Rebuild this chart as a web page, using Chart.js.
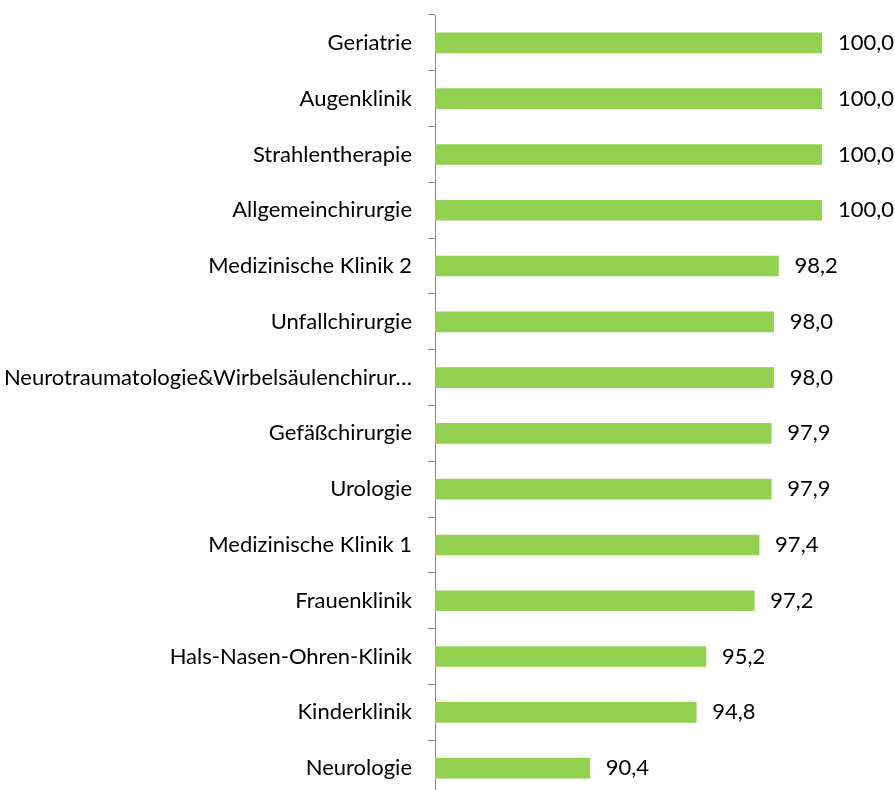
<!DOCTYPE html>
<html>
<head>
<meta charset="utf-8">
<script src="https://cdn.jsdelivr.net/npm/chart.js@4"></script>
<style>
  html, body { margin: 0; padding: 0; background: #fff; overflow: hidden; }
  #wrap { width: 895px; height: 800px; position: relative; }
</style>
</head>
<body>
<div id="wrap"><canvas id="chart"></canvas></div>
<script>
// categories top to bottom
const categories = [
	"Geriatrie",
	"Augenklinik",
	"Strahlentherapie",
	"Allgemeinchirurgie",
	"Medizinische Klinik 2",
	"Unfallchirurgie",
	"Neurotraumatologie&Wirbelsäulenchirur…",
	"Gefäßchirurgie",
	"Urologie",
	"Medizinische Klinik 1",
	"Frauenklinik",
	"Hals-Nasen-Ohren-Klinik",
	"Kinderklinik",
	"Neurologie"
];
const values = [100.0, 100.0, 100.0, 100.0, 98.2, 98.0, 98.0, 97.9, 97.9, 97.4, 97.2, 95.2, 94.8, 90.4];
const axisMin = 84;
const axisMax = 100;

const FONT = { family: "Lato", size: 22 };

// draw value labels to the right of each bar (comma decimal)
const valueLabels = {
	id: "valueLabels",
	afterDatasetsDraw(chart) {
		const ctx = chart.ctx;
		const meta = chart.getDatasetMeta(0);
		ctx.save();
		ctx.font = FONT.size + "px " + FONT.family;
		ctx.fillStyle = "#000";
		ctx.textAlign = "left";
		ctx.textBaseline = "middle";
		meta.data.forEach(function(bar, i) {
			ctx.fillText(values[i].toFixed(1).replace(".", ","), bar.x + 16, bar.y);
		});
		ctx.restore();
	}
};

new Chart(document.getElementById("chart"), {
	type: "bar",
	data: {
		labels: categories,
		datasets: [{
			data: values,
			backgroundColor: "#92d050",
			borderWidth: 0,
			barThickness: 20
		}]
	},
	options: {
		indexAxis: "y",
		responsive: true,
		maintainAspectRatio: false,
		animation: false,
		layout: { padding: { top: 15, right: 73, bottom: 4, left: 0 } },
		plugins: {
			legend: { display: false },
			tooltip: { enabled: false }
		},
		scales: {
			x: {
				display: false,
				min: axisMin,
				max: axisMax
			},
			y: {
				afterFit: function(scale) {
					scale.width = 435;
					// no extra room for half label heights at the ends
					scale.paddingTop = 0;
					scale.paddingBottom = 0;
				},
				grid: {
					offset: true,
					drawOnChartArea: false,
					drawTicks: true,
					tickLength: 7,
					color: "#868686"
				},
				border: { display: true, color: "#868686", width: 1 },
				ticks: {
					color: "#000",
					font: FONT,
					padding: 16,
					autoSkip: false
				}
			}
		}
	},
	plugins: [valueLabels]
});
</script>
</body>
</html>
